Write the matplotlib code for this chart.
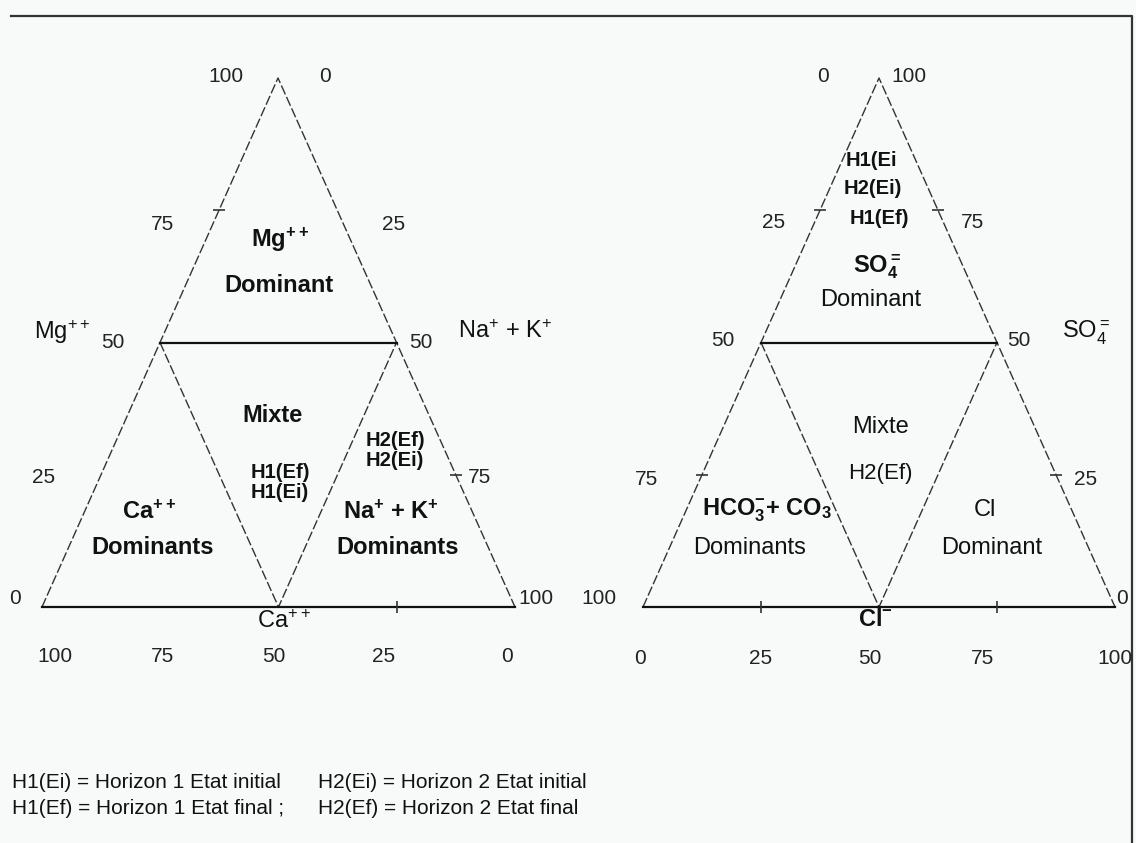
"""Piper-style ternary diagrams (cations / anions) for the two soil horizons."""

import matplotlib

matplotlib.use("Agg")
import matplotlib.pyplot as plt

plt.rcParams["font.family"] = ["Liberation Sans", "DejaVu Sans"]
plt.rcParams["mathtext.fontset"] = "custom"
plt.rcParams["mathtext.rm"] = "Liberation Sans"
plt.rcParams["mathtext.bf"] = "Liberation Sans:bold"
plt.rcParams["mathtext.default"] = "regular"

W, H = 1136, 843
BG = "#f8fafa"
INK = "#111111"

TICKS = [0, 25, 50, 75, 100]

# corner positions on the canvas: apex, base left, base right
CATION_TRI = {"apex": (278, 78), "left": (42, 607), "right": (515, 607)}
ANION_TRI = {"apex": (879, 78), "left": (643, 607), "right": (1115, 607)}

# each scale runs from one corner to another: (start, end, value at start, value at end)
CATION_SCALES = {
    "left": ("left", "apex", 0, 100),    # Mg++
    "right": ("apex", "right", 0, 100),  # Na+ + K+
    "base": ("left", "right", 100, 0),   # Ca++
}
ANION_SCALES = {
    "left": ("left", "apex", 100, 0),    # HCO3- + CO3
    "right": ("apex", "right", 100, 0),  # SO4
    "base": ("left", "right", 0, 100),   # Cl-
}

# label offsets (px) from the scale point, in the order of TICKS
CATION_LABEL_OFFSETS = {
    "left": [(-27, -9), (-57, 3), (-47, 0), (-56, 14), (-52, -2)],
    "right": [(47, -2), (56, 14), (24, 0), (24, 3), (21, -9)],
    "base": [(-8, 50), (-13, 50), (-5, 50), (2, 50), (13, 50)],
}
ANION_LABEL_OFFSETS = {
    "left": [(-56, -2), (-46, 12), (-38, -2), (-56, 5), (-44, -9)],
    "right": [(7, -9), (30, 5), (22, -2), (35, 12), (30, -2)],
    "base": [(-3, 51), (0, 51), (-9, 51), (-14, 51), (0, 51)],
}

# small tick marks drawn on the sides / base
CATION_TICKS = {"left": [75], "right": [75], "base": [25]}
ANION_TICKS = {"left": [25, 75], "right": [25, 75], "base": [25, 75]}

# region names and sample positions (text, x, y, size, bold)
CATION_TEXT = [
    ("Mg$^{++}$", 280, 240, 17, True),
    ("Dominant", 279, 286, 17, True),
    ("Mixte", 273, 415, 17, True),
    ("H2(Ef)", 395, 441, 14.5, True),
    ("H2(Ei)", 395, 460, 14.5, True),
    ("H1(Ef)", 280, 473, 14.5, True),
    ("H1(Ei)", 280, 493, 14.5, True),
    ("Ca$^{++}$", 149, 512, 17, True),
    ("Dominants", 153, 548, 17, True),
    ("Na$^{+}$ + K$^{+}$", 391, 512, 17, True),
    ("Dominants", 398, 548, 17, True),
    ("Mg$^{++}$", 62, 332, 17, False),
    ("Na$^{+}$ + K$^{+}$", 505, 332, 17, False),
    ("Ca$^{++}$", 284, 622, 17, False),
]
ANION_TEXT = [
    ("H1(Ei", 871, 160, 14.5, True),
    ("H2(Ei)", 873, 188, 14.5, True),
    ("H1(Ef)", 879, 218, 14.5, True),
    ("SO$_4^{=}$", 877, 267, 17, True),
    ("Dominant", 871, 300, 17, False),
    ("Mixte", 880, 427, 17, False),
    ("H2(Ef)", 880, 473, 16, False),
    ("HCO$_3^{-}$+ CO$_3$", 767, 510, 17, True),
    ("Dominants", 750, 548, 17, False),
    ("Cl", 985, 510, 17, False),
    ("Dominant", 992, 548, 17, False),
    ("SO$_4^{=}$", 1086, 332, 17, False),
    ("Cl$^{-}$", 875, 620, 17, True),
]

LEGEND_ROWS = [
    ("H1(Ei) = Horizon 1 Etat initial", "H2(Ei) = Horizon 2 Etat initial"),
    ("H1(Ef) = Horizon 1 Etat final ;", "H2(Ef) = Horizon 2 Etat final"),
]


def lerp(p, q, t):
    return (p[0] + (q[0] - p[0]) * t, p[1] + (q[1] - p[1]) * t)


def scale_point(tri, scale, value):
    start, end, v0, v1 = scale
    return lerp(tri[start], tri[end], (value - v0) / (v1 - v0))


def draw_triangle(ax, tri, scales, offsets, ticks, texts):
    apex, left, right = tri["apex"], tri["left"], tri["right"]
    side_style = dict(color="#333333", lw=1.0, ls=(0, (7, 2)))
    ax.plot([left[0], apex[0], right[0]], [left[1], apex[1], right[1]], **side_style)

    # inner triangle joining the mid points of the three sides
    m_left = scale_point(tri, scales["left"], 50)
    m_right = scale_point(tri, scales["right"], 50)
    m_base = scale_point(tri, scales["base"], 50)
    ax.plot([m_left[0], m_base[0], m_right[0]], [m_left[1], m_base[1], m_right[1]],
            **side_style)

    # solid base and 50 % line
    ax.plot([left[0], right[0]], [left[1], right[1]], color=INK, lw=1.6)
    ax.plot([m_left[0], m_right[0]], [m_left[1], m_right[1]], color=INK, lw=1.6)

    for name, values in ticks.items():
        marker = "|" if name == "base" else "_"
        for v in values:
            x, y = scale_point(tri, scales[name], v)
            ax.plot(x, y, marker=marker, ms=9, mew=1.2, color="#333333")

    for name, scale in scales.items():
        for v, (dx, dy) in zip(TICKS, offsets[name]):
            x, y = scale_point(tri, scale, v)
            ax.text(x + dx, y + dy, str(v), ha="center", va="center",
                    fontsize=15, color="#222222")

    for s, x, y, size, bold in texts:
        ax.text(x, y, s, ha="center", va="center", fontsize=size, color=INK,
                fontweight="bold" if bold else "normal")


def main():
    fig = plt.figure(figsize=(W / 100, H / 100), dpi=100, facecolor=BG)
    ax = fig.add_axes([0, 0, 1, 1])
    ax.set_xlim(0, W)
    ax.set_ylim(H, 0)
    ax.axis("off")

    # frame: top and right edges only
    ax.plot([11, 1132, 1132], [16, 16, H], color="#333333", lw=1.6)

    draw_triangle(ax, CATION_TRI, CATION_SCALES, CATION_LABEL_OFFSETS,
                  CATION_TICKS, CATION_TEXT)
    draw_triangle(ax, ANION_TRI, ANION_SCALES, ANION_LABEL_OFFSETS,
                  ANION_TICKS, ANION_TEXT)

    for i, (first, second) in enumerate(LEGEND_ROWS):
        y = 782 + 26 * i
        ax.text(12, y, first, ha="left", va="center", fontsize=15, color=INK)
        ax.text(318, y, second, ha="left", va="center", fontsize=15, color=INK)

    fig.savefig("out.png", dpi=100, facecolor=BG)


if __name__ == "__main__":
    main()
